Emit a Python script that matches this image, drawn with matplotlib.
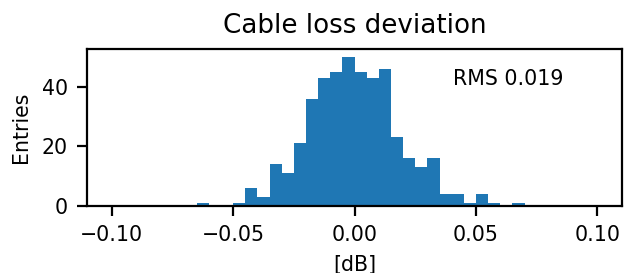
import numpy as np
import matplotlib
matplotlib.use("Agg")
import matplotlib.pyplot as plt

# histogram of cable loss deviation, 40 bins from -0.1 to 0.1 dB
bin_lo = -0.1
bin_hi = 0.1
n_bins = 40
counts = [0, 0, 0, 0, 0, 0, 0, 1, 0, 0,
          1, 6, 3, 14, 11, 21, 36, 43, 45, 50,
          45, 43, 46, 23, 16, 13, 16, 4, 4, 1,
          4, 1, 0, 1, 0, 0, 0, 0, 0, 0]
rms_value = 0.019

edges = np.linspace(bin_lo, bin_hi, n_bins + 1)
centers = 0.5 * (edges[:-1] + edges[1:])

plt.rcParams["font.size"] = 7.4

fig = plt.figure(figsize=(3.12, 1.365), dpi=200)
ax = fig.add_axes([0.140, 0.2458, 0.8564, 0.5736])
ax.hist(centers, bins=edges, weights=counts)
ax.set_title("Cable loss deviation", fontsize=9.4)
ax.set_xlabel("[dB]", labelpad=3.3)
ax.set_ylabel("Entries")
ax.text(0.685, 0.81, f"RMS {rms_value:.3f}", transform=ax.transAxes, va="center")

fig.savefig("out.png", dpi=200)
